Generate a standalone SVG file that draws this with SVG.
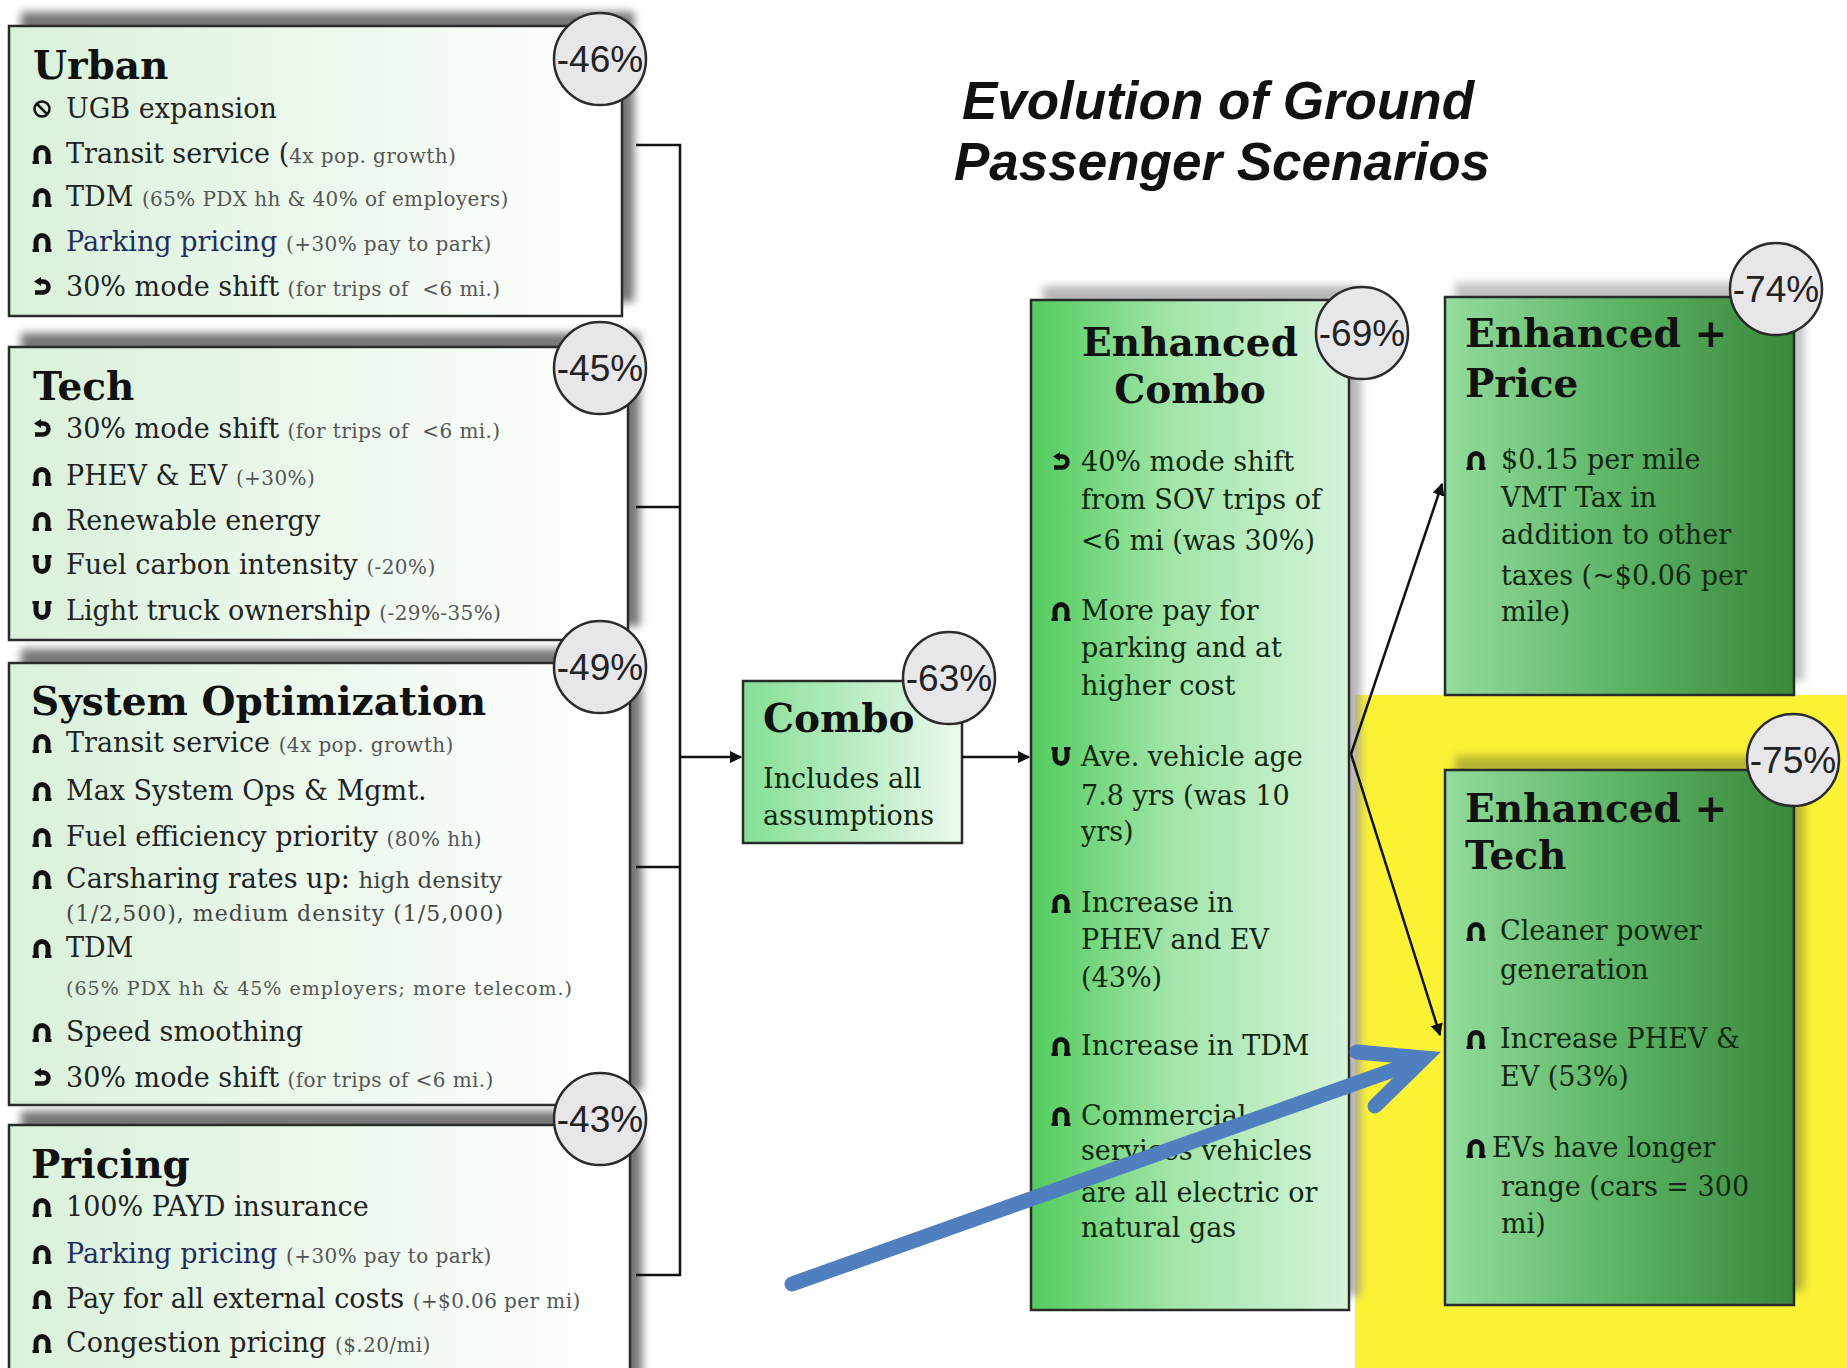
<svg xmlns="http://www.w3.org/2000/svg" width="1847" height="1368" viewBox="0 0 1847 1368">
<style>
.box{stroke:#2a2a2a;stroke-width:2.5}
.t{font-family:"DejaVu Serif","Liberation Serif",serif;font-weight:bold;font-size:39px;fill:#111}
.b{font-family:"DejaVu Serif","Liberation Serif",serif;font-size:27px;fill:#222}
.bg{font-family:"DejaVu Serif","Liberation Serif",serif;font-size:27px;fill:#10280f}
.s{font-size:20px;fill:#555;letter-spacing:0.4px}
.m{font-family:"DejaVu Serif","Liberation Serif",serif;font-size:22px;fill:#444}
.nav{fill:#1f2d5c}
.pc circle{fill:#e7e7ea;stroke:#2b2b2b;stroke-width:2.5}
.pc text{font-family:"Liberation Sans",Arial,sans-serif;font-size:37px;fill:#222;text-anchor:middle}
.conn{stroke:#111;stroke-width:2.5;fill:none}
.title{font-family:"Liberation Sans",Arial,sans-serif;font-weight:bold;font-style:italic;font-size:53px;fill:#111;text-anchor:middle}
</style>
<defs>
<linearGradient id="gL" x1="0" y1="0" x2="1" y2="0"><stop offset="0" stop-color="#d9f1da"/><stop offset="1" stop-color="#ffffff"/></linearGradient>
<linearGradient id="gC" x1="0" y1="0" x2="1" y2="0"><stop offset="0" stop-color="#84df95"/><stop offset="1" stop-color="#ecf9ee"/></linearGradient>
<linearGradient id="gE" x1="0" y1="0" x2="1" y2="0"><stop offset="0" stop-color="#52cc5d"/><stop offset="0.45" stop-color="#a2e5aa"/><stop offset="1" stop-color="#d6f4da"/></linearGradient>
<linearGradient id="gD" x1="0" y1="0" x2="1" y2="0"><stop offset="0" stop-color="#93dc9d"/><stop offset="0.5" stop-color="#5cb466"/><stop offset="1" stop-color="#3a873c"/></linearGradient>
<filter id="blur" x="-10%" y="-10%" width="120%" height="120%"><feGaussianBlur stdDeviation="4"/></filter>
<marker id="ah" viewBox="0 0 10 10" refX="9" refY="5" markerWidth="5" markerHeight="5" orient="auto"><path d="M0,0 L10,5 L0,10 z" fill="#111"/></marker>
<symbol id="up" viewBox="0 0 20 20"><path d="M4,18 V10 A6,6.5 0 0 1 16,10 V18" fill="none" stroke="#111" stroke-width="5"/><path d="M0.5,18.5 H7 M13,18.5 H19.5" stroke="#111" stroke-width="3"/></symbol>
<symbol id="dn" viewBox="0 0 20 20"><path d="M4,2 V10 A6,6.5 0 0 0 16,10 V2" fill="none" stroke="#111" stroke-width="5"/><path d="M0.5,1.5 H7 M13,1.5 H19.5" stroke="#111" stroke-width="3"/></symbol>
<symbol id="sh" viewBox="0 0 20 20"><path d="M8,4.5 H11 A5.5,5.5 0 0 1 11,15.5 H3" fill="none" stroke="#111" stroke-width="4.5"/><path d="M2,4.5 L9,0 L9,9 z" fill="#111"/></symbol>
<symbol id="no" viewBox="0 0 20 20"><circle cx="10" cy="10" r="7.5" fill="none" stroke="#111" stroke-width="2.5"/><path d="M4.5,4.5 L15.5,15.5" stroke="#111" stroke-width="2.5"/></symbol>
</defs>
<rect width="1847" height="1368" fill="#ffffff"/>

<g id="highlight"><rect x="1355" y="695" width="492" height="673" fill="#fbf236"/></g>

<g id="title">
<text class="title" x="1218" y="119">Evolution of Ground</text>
<text class="title" x="1222" y="180">Passenger Scenarios</text>
</g>

<g id="urban">
<rect x="21" y="12" width="613" height="290" fill="#777" filter="url(#blur)"/>
<rect class="box" x="9" y="26" width="613" height="290" fill="url(#gL)"/>
<text class="t" x="33" y="79">Urban</text>
<use href="#no" x="32" y="99" width="20" height="20"/>
<text class="b" x="66" y="118">UGB expansion</text>
<use href="#up" x="32" y="144" width="20" height="20"/>
<text class="b" x="66" y="163">Transit service (<tspan class="s">4x pop. growth)</tspan></text>
<use href="#up" x="32" y="187" width="20" height="20"/>
<text class="b" x="66" y="206">TDM <tspan class="s">(65% PDX hh &amp; 40% of employers)</tspan></text>
<use href="#up" x="32" y="232" width="20" height="20"/>
<text class="b" x="66" y="251"><tspan class="nav">Parking pricing</tspan> <tspan class="s">(+30% pay to park)</tspan></text>
<use href="#sh" x="32" y="277" width="20" height="20"/>
<text class="b" x="66" y="296">30% mode shift <tspan class="s">(for trips of&#160; &lt;6 mi.)</tspan></text>
<g class="pc"><circle cx="600" cy="59" r="46"/><text x="600" y="72">-46%</text></g>
</g>

<g id="tech">
<rect x="21" y="333" width="619" height="293" fill="#777" filter="url(#blur)"/>
<rect class="box" x="9" y="347" width="619" height="293" fill="url(#gL)"/>
<text class="t" x="33" y="400">Tech</text>
<use href="#sh" x="32" y="419" width="20" height="20"/>
<text class="b" x="66" y="438">30% mode shift <tspan class="s">(for trips of&#160; &lt;6 mi.)</tspan></text>
<use href="#up" x="32" y="466" width="20" height="20"/>
<text class="b" x="66" y="485">PHEV &amp; EV <tspan class="s">(+30%)</tspan></text>
<use href="#up" x="32" y="511" width="20" height="20"/>
<text class="b" x="66" y="530">Renewable energy</text>
<use href="#dn" x="32" y="555" width="20" height="20"/>
<text class="b" x="66" y="574">Fuel carbon intensity <tspan class="s">(-20%)</tspan></text>
<use href="#dn" x="32" y="601" width="20" height="20"/>
<text class="b" x="66" y="620">Light truck ownership <tspan class="s">(-29%-35%)</tspan></text>
<g class="pc"><circle cx="600" cy="368" r="46"/><text x="600" y="381">-45%</text></g>
</g>

<g id="sysopt">
<rect x="21" y="649" width="621" height="442" fill="#777" filter="url(#blur)"/>
<rect class="box" x="9" y="663" width="621" height="442" fill="url(#gL)"/>
<text class="t" x="31" y="715">System Optimization</text>
<use href="#up" x="32" y="733" width="20" height="20"/>
<text class="b" x="66" y="752">Transit service <tspan class="s">(4x pop. growth)</tspan></text>
<use href="#up" x="32" y="781" width="20" height="20"/>
<text class="b" x="66" y="800">Max System Ops &amp; Mgmt.</text>
<use href="#up" x="32" y="827" width="20" height="20"/>
<text class="b" x="66" y="846">Fuel efficiency priority <tspan class="s">(80% hh)</tspan></text>
<use href="#up" x="32" y="869" width="20" height="20"/>
<text class="b" x="66" y="888">Carsharing rates up: <tspan style="font-size:23px;fill:#444">high density</tspan></text>
<text class="m" x="66" y="921" textLength="437">(1/2,500), medium density (1/5,000)</text>
<use href="#up" x="32" y="938" width="20" height="20"/>
<text class="b" x="66" y="957">TDM</text>
<text class="m" x="66" y="995" style="font-size:19px;fill:#555" textLength="506">(65% PDX hh &amp; 45% employers; more telecom.)</text>
<use href="#up" x="32" y="1022" width="20" height="20"/>
<text class="b" x="66" y="1041">Speed smoothing</text>
<use href="#sh" x="32" y="1068" width="20" height="20"/>
<text class="b" x="66" y="1087">30% mode shift <tspan class="s">(for trips of &lt;6 mi.)</tspan></text>
<g class="pc"><circle cx="600" cy="667" r="46"/><text x="600" y="680">-49%</text></g>
</g>

<g id="pricing">
<rect x="21" y="1111" width="621" height="280" fill="#777" filter="url(#blur)"/>
<rect class="box" x="9" y="1125" width="621" height="270" fill="url(#gL)"/>
<text class="t" x="31" y="1178">Pricing</text>
<use href="#up" x="32" y="1197" width="20" height="20"/>
<text class="b" x="66" y="1216">100% PAYD insurance</text>
<use href="#up" x="32" y="1244" width="20" height="20"/>
<text class="b" x="66" y="1263"><tspan class="nav">Parking pricing</tspan> <tspan class="s">(+30% pay to park)</tspan></text>
<use href="#up" x="32" y="1289" width="20" height="20"/>
<text class="b" x="66" y="1308">Pay for all external costs <tspan class="s">(+$0.06 per mi)</tspan></text>
<use href="#up" x="32" y="1333" width="20" height="20"/>
<text class="b" x="66" y="1352">Congestion pricing <tspan class="s">($.20/mi)</tspan></text>
<g class="pc"><circle cx="600" cy="1119" r="46"/><text x="600" y="1132">-43%</text></g>
</g>

<g id="combo">
<rect class="box" x="743" y="681" width="219" height="162" fill="url(#gC)"/>
<text class="t" x="763" y="732">Combo</text>
<text class="bg" x="763" y="788">Includes all</text>
<text class="bg" x="763" y="825">assumptions</text>
<g class="pc"><circle cx="949" cy="678" r="46"/><text x="949" y="691">-63%</text></g>
</g>

<g id="enhanced-combo">
<rect x="1043" y="286" width="318" height="1010" fill="#999" opacity="0.7" filter="url(#blur)"/>
<rect class="box" x="1031" y="300" width="318" height="1010" fill="url(#gE)"/>
<text class="t" x="1190" y="356" text-anchor="middle">Enhanced</text>
<text class="t" x="1190" y="403" text-anchor="middle">Combo</text>
<use href="#sh" x="1051" y="452" width="20" height="20"/>
<text class="bg" x="1081" y="471">40% mode shift</text>
<text class="bg" x="1081" y="509">from SOV trips of</text>
<text class="bg" x="1081" y="550">&lt;6 mi (was 30%)</text>
<use href="#up" x="1051" y="601" width="20" height="20"/>
<text class="bg" x="1081" y="620">More pay for</text>
<text class="bg" x="1081" y="657">parking and at</text>
<text class="bg" x="1081" y="695">higher cost</text>
<use href="#dn" x="1051" y="747" width="20" height="20"/>
<text class="bg" x="1081" y="766">Ave. vehicle age</text>
<text class="bg" x="1081" y="805">7.8 yrs (was 10</text>
<text class="bg" x="1081" y="841">yrs)</text>
<use href="#up" x="1051" y="893" width="20" height="20"/>
<text class="bg" x="1081" y="912">Increase in</text>
<text class="bg" x="1081" y="949">PHEV and EV</text>
<text class="bg" x="1081" y="987">(43%)</text>
<use href="#up" x="1051" y="1036" width="20" height="20"/>
<text class="bg" x="1081" y="1055">Increase in TDM</text>
<use href="#up" x="1051" y="1106" width="20" height="20"/>
<text class="bg" x="1081" y="1125">Commercial</text>
<text class="bg" x="1081" y="1160">services vehicles</text>
<text class="bg" x="1081" y="1202">are all electric or</text>
<text class="bg" x="1081" y="1237">natural gas</text>
<g class="pc"><circle cx="1362" cy="333" r="46"/><text x="1362" y="346">-69%</text></g>
</g>

<g id="enhanced-price">
<rect x="1455" y="283" width="349" height="398" fill="#999" opacity="0.6" filter="url(#blur)"/>
<rect class="box" x="1445" y="297" width="349" height="398" fill="url(#gD)"/>
<text class="t" x="1465" y="347">Enhanced +</text>
<text class="t" x="1465" y="397">Price</text>
<use href="#up" x="1466" y="450" width="20" height="20"/>
<text class="bg" x="1501" y="469">$0.15 per mile</text>
<text class="bg" x="1501" y="507">VMT Tax in</text>
<text class="bg" x="1501" y="544">addition to other</text>
<text class="bg" x="1501" y="585">taxes (~$0.06 per</text>
<text class="bg" x="1501" y="621">mile)</text>
<g class="pc"><circle cx="1776" cy="289" r="46"/><text x="1776" y="302">-74%</text></g>
</g>

<g id="enhanced-tech">
<rect x="1455" y="756" width="349" height="535" fill="#8a8a30" opacity="0.6" filter="url(#blur)"/>
<rect class="box" x="1445" y="770" width="349" height="535" fill="url(#gD)"/>
<text class="t" x="1465" y="822">Enhanced +</text>
<text class="t" x="1465" y="869">Tech</text>
<use href="#up" x="1466" y="921" width="20" height="20"/>
<text class="bg" x="1500" y="940">Cleaner power</text>
<text class="bg" x="1500" y="979">generation</text>
<use href="#up" x="1466" y="1029" width="20" height="20"/>
<text class="bg" x="1500" y="1048">Increase PHEV &amp;</text>
<text class="bg" x="1500" y="1086">EV (53%)</text>
<use href="#up" x="1466" y="1138" width="20" height="20"/>
<text class="bg" x="1492" y="1157">EVs have longer</text>
<text class="bg" x="1501" y="1196">range (cars = 300</text>
<text class="bg" x="1501" y="1233">mi)</text>
<g class="pc"><circle cx="1793" cy="760" r="46"/><text x="1793" y="773">-75%</text></g>
</g>

<g id="connectors">
<path class="conn" d="M636,145 H680 V1275 H636 M636,507 H680 M636,867 H680"/>
<path class="conn" d="M680,757 H741" marker-end="url(#ah)"/>
<path class="conn" d="M962,757 H1029" marker-end="url(#ah)"/>
<path class="conn" d="M1351,754 L1442,484" marker-end="url(#ah)"/>
<path class="conn" d="M1351,754 L1440,1035" marker-end="url(#ah)"/>
<g fill="none" stroke="#4f7fbf" stroke-width="15" stroke-linecap="round">
<path d="M792,1284 L1410,1064"/>
<path d="M1357,1052 L1424,1058 L1375,1106" stroke-linejoin="miter" stroke-miterlimit="10"/>
</g>
</g>
</svg>
